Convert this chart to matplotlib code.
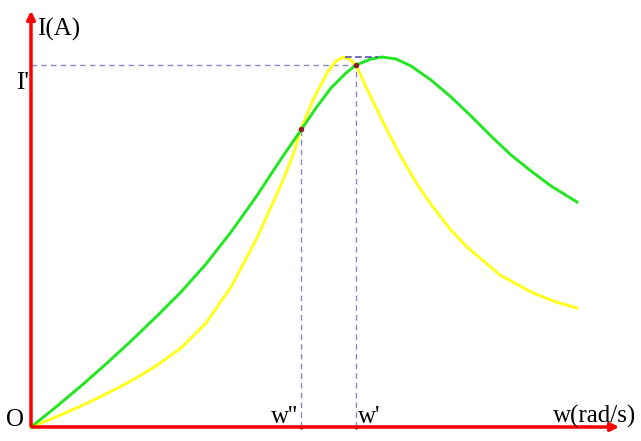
import numpy as np
import matplotlib
matplotlib.use('Agg')
import matplotlib.pyplot as plt

# curves (w, I in arbitrary units)
w_green = [0, 25, 50, 75, 100, 125, 150, 175, 200, 225, 250, 270, 285, 300, 315, 325,
           340, 351, 365, 380, 400, 420, 440, 460, 480, 500, 520, 546]
i_green = [0, 20, 41, 63, 86, 110, 135, 163, 195, 230, 268, 297, 319, 339, 354, 362,
           368, 370, 368, 361, 347, 330, 311, 291, 272, 256, 241, 225]

w_yellow = [0, 25, 50, 75, 100, 125, 150, 175, 200, 225, 250, 262, 270, 282, 296, 305,
            312, 318, 325, 336, 352, 369, 386, 402, 419, 436, 469, 502, 525, 546]
i_yellow = [0, 10, 21, 33, 46, 61, 79, 104, 140, 187, 242, 272, 298, 327, 354, 366,
            370, 368, 362, 338, 305, 272, 243, 220, 198, 180, 152, 134, 125, 119]

w_prime = 325
w_dprime = 270
i_prime = 362
i_dprime = 298
i_peak = 370

plt.rcParams['font.family'] = ['Liberation Serif', 'DejaVu Serif']

fig = plt.figure(figsize=(6.41, 4.41), dpi=100)
ax = fig.add_axes([0, 0, 1, 1])
ax.set_xlim(-31, 610)
ax.set_ylim(-14, 427)
ax.axis('off')

dash = dict(color='#8888cc', lw=1, ls=(0, (4, 3)))
ax.plot([0, w_prime], [i_prime, i_prime], **dash)
ax.plot([w_prime, w_prime], [0, i_prime], **dash)
ax.plot([w_dprime, w_dprime], [0, i_dprime], **dash)

ax.plot(w_yellow, i_yellow, color='#ffff1a', lw=2.1, solid_joinstyle='round')
ax.plot(w_green, i_green, color='#22e622', lw=2.1, solid_joinstyle='round')
ax.plot([314, 347], [i_peak, i_peak], color='#5555aa', lw=1.2, ls=(0, (4, 2)))

ax.plot([w_dprime, w_prime], [i_dprime, i_prime], 'o', color='#882222', ms=3)
ax.plot([w_dprime, w_prime], [0, 0], 'o', color='#552222', ms=2)

# axes with arrows
ax.annotate('', xy=(591, 0), xytext=(-1.5, 0),
            arrowprops=dict(arrowstyle='-|>', color='red', lw=2.5, mutation_scale=12))
ax.annotate('', xy=(0, 419), xytext=(0, -1.5),
            arrowprops=dict(arrowstyle='-|>', color='red', lw=2.5, mutation_scale=12))

fs = 18
ax.text(6, 427 - 36, 'I(A)', fontsize=fs, ha='left', va='baseline')
ax.text(-2, 427 - 89, "I'", fontsize=fs, ha='right', va='baseline')
ax.text(-7, 427 - 426, 'O', fontsize=fs, ha='right', va='baseline')
ax.text(w_dprime - 3, 427 - 423, "w''", fontsize=fs, ha='right', va='baseline')
ax.text(w_prime + 2, 427 - 423, "w'", fontsize=fs, ha='left', va='baseline')
ax.text(522, 427 - 423, 'w(rad/s)', fontsize=fs, ha='left', va='baseline')

fig.savefig('out.png', dpi=100)
